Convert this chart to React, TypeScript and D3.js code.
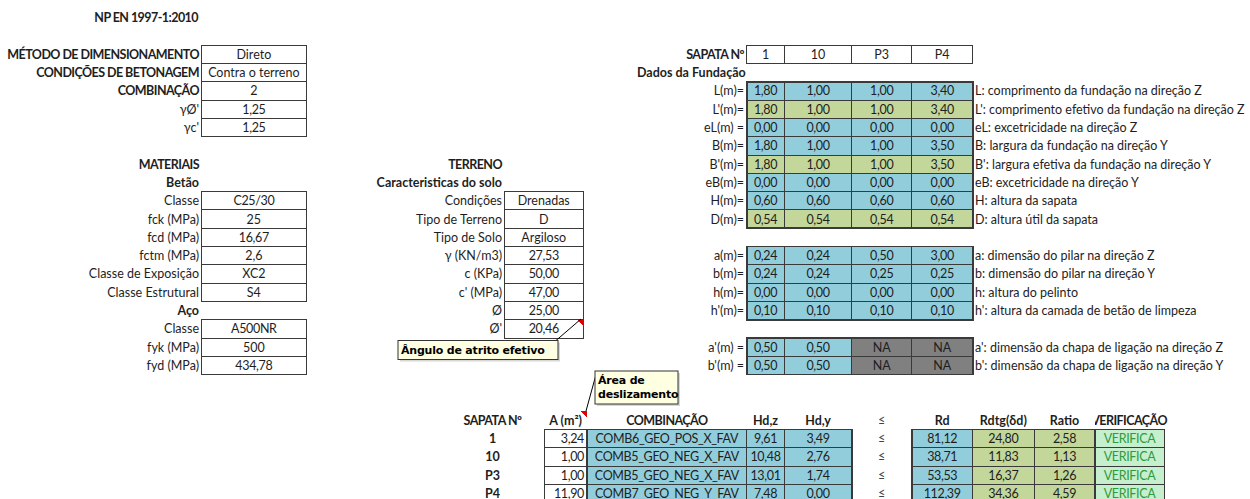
import React from 'react';
import * as d3 from 'd3';

const W = 1250;
const H = 499;

// ---- data read from the sheet ----
const titleText = 'NP EN 1997-1:2010';

const geralLabels = ['MÉTODO DE DIMENSIONAMENTO', 'CONDIÇÕES DE BETONAGEM', 'COMBINAÇÃO', "γØ'", "γc'"];
const geralBold = [true, true, true, false, false];
const geralValues = ['Direto', 'Contra o terreno', '2', '1,25', '1,25'];

const betaoLabels = ['Classe', 'fck (MPa)', 'fcd (MPa)', 'fctm (MPa)', 'Classe de Exposição', 'Classe Estrutural'];
const betaoValues = ['C25/30', '25', '16,67', '2,6', 'XC2', 'S4'];
const acoLabels = ['Classe', 'fyk (MPa)', 'fyd (MPa)'];
const acoValues = ['A500NR', '500', '434,78'];

const soloLabels = ['Condições', 'Tipo de Terreno', 'Tipo de Solo', 'γ (KN/m3)', 'c (KPa)', "c' (MPa)", 'Ø', "Ø'"];
const soloValues = ['Drenadas', 'D', 'Argiloso', '27,53', '50,00', '47,00', '25,00', '20,46'];

const sapatas = ['1', '10', 'P3', 'P4'];

const fundLabels = ['L(m)=', "L'(m)=", 'eL(m) =', 'B(m)=', "B'(m)=", 'eB(m)=', 'H(m)=', 'D(m)='];
const fundValues = [
  [1.8, 1.0, 1.0, 3.4],
  [1.8, 1.0, 1.0, 3.4],
  [0, 0, 0, 0],
  [1.8, 1.0, 1.0, 3.5],
  [1.8, 1.0, 1.0, 3.5],
  [0, 0, 0, 0],
  [0.6, 0.6, 0.6, 0.6],
  [0.54, 0.54, 0.54, 0.54],
];
const fundKind = ['input', 'calc', 'input', 'input', 'calc', 'input', 'input', 'calc'];
const fundDesc = [
  'L: comprimento da fundação na direção Z',
  "L': comprimento efetivo da fundação na direção Z",
  'eL: excetricidade na direção Z',
  'B: largura da fundação na direção Y',
  "B': largura efetiva da fundação na direção Y",
  'eB: excetricidade na direção Y',
  'H: altura da sapata',
  'D: altura útil da sapata',
];

const pilarLabels = ['a(m)=', 'b(m)=', 'h(m)=', "h'(m)="];
const pilarValues = [
  [0.24, 0.24, 0.5, 3.0],
  [0.24, 0.24, 0.25, 0.25],
  [0, 0, 0, 0],
  [0.1, 0.1, 0.1, 0.1],
];
const pilarDesc = [
  'a: dimensão do pilar na direção Z',
  'b: dimensão do pilar na direção Y',
  'h: altura do pelinto',
  "h': altura da camada de betão de limpeza",
];

const chapaLabels = ["a'(m) =", "b'(m) ="];
const chapaValues: (number | null)[][] = [
  [0.5, 0.5, null, null],
  [0.5, 0.5, null, null],
];
const chapaDesc = [
  "a': dimensão da chapa de ligação na direção Z",
  "b': dimensão da chapa de ligação na direção Y",
];

const tabHeaders = ['SAPATA Nº', 'A (m²)', 'COMBINAÇÃO', 'Hd,z', 'Hd,y', '≤', 'Rd', 'Rdtg(δd)', 'Ratio', 'VERIFICAÇÃO'];
const tabArea = [3.24, 1.0, 1.0, 11.9];
const tabComb = ['COMB6_GEO_POS_X_FAV', 'COMB5_GEO_NEG_X_FAV', 'COMB5_GEO_NEG_X_FAV', 'COMB7_GEO_NEG_Y_FAV'];
const tabHdz = [9.61, 10.48, 13.01, 7.48];
const tabHdy = [3.49, 2.76, 1.74, 0.0];
const tabRd = [81.12, 38.71, 53.53, 112.39];
const tabRdtg = [24.8, 11.83, 16.37, 34.36];
const tabRatio = [2.58, 1.13, 1.26, 4.59];
const tabVerif = ['VERIFICA', 'VERIFICA', 'VERIFICA', 'VERIFICA'];

const noteAngulo = ['Ângulo de atrito efetivo'];
const noteArea = ['Área de', 'deslizamento'];

// ---- styling / layout ----
const FONT = 'Lato, "Open Sans", sans-serif';
const FS = 12.5;
const INK = '#1e1e1e';
const BORDER = '#3a3a3a';
const BLUE = '#92cddc';
const GREEN = '#c4d79b';
const GREY = '#808080';
const OK_FILL = '#c6efce';
const OK_INK = '#2f9a3f';

const pt = d3.formatLocale({ decimal: ',', thousands: '.', grouping: [3], currency: ['', ''] });
const f2 = pt.format('.2f');

// spreadsheet rows -> top pixel
const ROW_H = 18.3;
const rowTop = d3.scaleLinear().domain([0, 1]).range([8.6, 8.6 + ROW_H]);
const rowMid = (r: number) => rowTop(r) + ROW_H / 2;

// column edges of the right hand grid
const gridX = d3.scaleOrdinal<number, number>()
  .domain([0, 1, 2, 3, 4, 5, 6, 7])
  .range([746.7, 784.3, 851.7, 911.7, 972.7, 1034, 1095, 1164]);

type Align = 'start' | 'middle' | 'end';

// Calibri caps are narrower than Lato's, squeeze all-caps strings a bit
const squeeze = (t: string, bold: boolean) =>
  /[A-Z0-9]/.test(t) && !/[a-zà-ÿ]/.test(t) && t.length > 3 ? (bold ? -0.55 : -0.35) : 0;

function Txt({ x, r, text, anchor = 'middle', bold = false, color = INK, size = FS }:
  { x: number; r: number; text: string; anchor?: Align; bold?: boolean; color?: string; size?: number }) {
  return (
    <text x={x} y={rowMid(r)} dy="0.36em" textAnchor={anchor} fontWeight={bold ? 700 : 400}
      letterSpacing={squeeze(text, bold)} fill={color} fontSize={size} fontFamily={FONT}>{text}</text>
  );
}

function Cell({ x0, x1, r, text, fill = '#fff', anchor = 'middle', bold = false, color = INK }:
  { x0: number; x1: number; r: number; text: string; fill?: string; anchor?: Align; bold?: boolean; color?: string }) {
  const tx = anchor === 'middle' ? (x0 + x1) / 2 : anchor === 'end' ? x1 - 3 : x0 + 3;
  return (
    <g>
      <rect x={x0} y={rowTop(r)} width={x1 - x0} height={ROW_H} fill={fill} stroke={BORDER} strokeWidth={1} />
      <Txt x={tx} r={r} text={text} anchor={anchor} bold={bold} color={color} />
    </g>
  );
}

function LabelBox({ labels, values, r0, labelX, x0, x1, bold }:
  { labels: string[]; values: string[]; r0: number; labelX: number; x0: number; x1: number; bold?: boolean[] }) {
  return (
    <g>
      {labels.map((l, i) => (
        <g key={i}>
          <Txt x={labelX} r={r0 + i} text={l} anchor="end" bold={bold ? bold[i] : false} />
          <Cell x0={x0} x1={x1} r={r0 + i} text={values[i]} />
        </g>
      ))}
    </g>
  );
}

function Grid({ labels, values, kinds, desc, r0 }:
  { labels: string[]; values: (number | null)[][]; kinds?: string[]; desc: string[]; r0: number }) {
  return (
    <g>
      {labels.map((l, i) => (
        <g key={i}>
          <Txt x={744} r={r0 + i} text={l} anchor="end" />
          {values[i].map((v, j) => (
            <Cell key={j} x0={gridX(j)} x1={gridX(j + 1)} r={r0 + i}
              text={v === null ? 'NA' : f2(v)}
              fill={v === null ? GREY : kinds && kinds[i] === 'calc' ? GREEN : BLUE} />
          ))}
          <Txt x={975} r={r0 + i} text={desc[i]} anchor="start" />
        </g>
      ))}
      <rect x={gridX(0)} y={rowTop(r0)} width={gridX(4) - gridX(0)} height={ROW_H * labels.length}
        fill="none" stroke={BORDER} strokeWidth={1.6} />
    </g>
  );
}

function Note({ x, y, w, lines, tx, ty }: { x: number; y: number; w: number; lines: string[]; tx: number; ty: number }) {
  const h = lines.length * 14 + 5;
  return (
    <g>
      <line x1={x + (tx > x + w / 2 ? w - 2 : 2)} y1={y} x2={tx} y2={ty} stroke="#000" strokeWidth={1} />
      <rect x={x + 2} y={y + 2} width={w} height={h} fill="#bdbdbd" opacity={0.6} />
      <rect x={x} y={y} width={w} height={h} fill="#ffffe1" stroke="#333" strokeWidth={1} />
      {lines.map((t, i) => (
        <text key={i} x={x + 3} y={y + 13 + i * 14} fontSize={11} fontWeight={700} letterSpacing={-0.2}
          fontFamily='Tahoma, "DejaVu Sans", sans-serif' fill="#000">{t}</text>
      ))}
    </g>
  );
}

function RedMark({ x, y }: { x: number; y: number }) {
  const p = d3.path();
  p.moveTo(x - 6, y);
  p.lineTo(x, y);
  p.lineTo(x, y + 6);
  p.closePath();
  return <path d={p.toString()} fill="#e00000" />;
}

export default function App() {
  const bottomCols: [number, number][] = [
    [460, 525], [544.3, 587], [587, gridX(0)], [gridX(0), gridX(1)], [gridX(1), gridX(2)],
    [gridX(2), gridX(3)], [gridX(3), gridX(4)], [gridX(4), gridX(5)], [gridX(5), gridX(6)], [gridX(6), gridX(7)],
  ];
  const mid = (c: [number, number]) => (c[0] + c[1]) / 2;
  const r0 = 23;

  return (
    <svg width={W} height={H} style={{ position: 'absolute', left: 0, top: 0, background: '#fff' }}
      shapeRendering="crispEdges">
      <defs>
        <clipPath id="verifClip">
          <rect x={gridX(6)} y={0} width={W - gridX(6)} height={H} />
        </clipPath>
      </defs>
      <rect width={W} height={H} fill="#fff" />

      <Txt x={198} r={0} text={titleText} anchor="end" bold />

      {/* general block */}
      <LabelBox labels={geralLabels} values={geralValues} bold={geralBold} r0={2} labelX={199} x0={201.7} x1={306} />

      {/* materiais */}
      <Txt x={199} r={8} text="MATERIAIS" anchor="end" bold />
      <Txt x={199} r={9} text="Betão" anchor="end" bold />
      <LabelBox labels={betaoLabels} values={betaoValues} r0={10} labelX={199} x0={201.7} x1={306} />
      <Txt x={199} r={16} text="Aço" anchor="end" bold />
      <LabelBox labels={acoLabels} values={acoValues} r0={17} labelX={199} x0={201.7} x1={306} />

      {/* terreno */}
      <Txt x={502} r={8} text="TERRENO" anchor="end" bold />
      <Txt x={502} r={9} text="Caracteristicas do solo" anchor="end" bold />
      <LabelBox labels={soloLabels} values={soloValues} r0={10} labelX={502} x0={504} x1={583.5} />
      <RedMark x={583.5} y={rowTop(17)} />

      {/* fundação */}
      <Txt x={744} r={2} text="SAPATA Nº" anchor="end" bold />
      {sapatas.map((s, j) => (
        <Cell key={s} x0={gridX(j)} x1={gridX(j + 1)} r={2} text={s} />
      ))}
      <Txt x={637} r={3} text="Dados da Fundação" anchor="start" bold />
      <Grid labels={fundLabels} values={fundValues} kinds={fundKind} desc={fundDesc} r0={4} />
      <Grid labels={pilarLabels} values={pilarValues} desc={pilarDesc} r0={13} />
      <Grid labels={chapaLabels} values={chapaValues} desc={chapaDesc} r0={18} />

      {/* verificação ao deslizamento */}
      {tabHeaders.map((h, k) => (
        <g key={h} clipPath={k === 9 ? 'url(#verifClip)' : undefined}>
          <Txt x={k === 9 ? 1167 : mid(bottomCols[k])} anchor={k === 9 ? 'end' : 'middle'} r={22} text={h}
            bold={k !== 5} color={k === 5 ? '#444' : INK} />
        </g>
      ))}
      <RedMark x={587} y={rowTop(22)} />
      {sapatas.map((s, i) => (
        <g key={s}>
          <Txt x={mid(bottomCols[0])} r={r0 + i} text={s} bold />
          <Cell x0={bottomCols[1][0]} x1={bottomCols[1][1]} r={r0 + i} text={f2(tabArea[i])} anchor="end" />
          <Cell x0={bottomCols[2][0]} x1={bottomCols[2][1]} r={r0 + i} text={tabComb[i]} fill={BLUE} />
          <Cell x0={bottomCols[3][0]} x1={bottomCols[3][1]} r={r0 + i} text={f2(tabHdz[i])} fill={BLUE} />
          <Cell x0={bottomCols[4][0]} x1={bottomCols[4][1]} r={r0 + i} text={f2(tabHdy[i])} fill={BLUE} />
          <Txt x={mid(bottomCols[5])} r={r0 + i} text="≤" color="#444" />
          <Cell x0={bottomCols[6][0]} x1={bottomCols[6][1]} r={r0 + i} text={f2(tabRd[i])} fill={BLUE} />
          <Cell x0={bottomCols[7][0]} x1={bottomCols[7][1]} r={r0 + i} text={f2(tabRdtg[i])} fill={GREEN} />
          <Cell x0={bottomCols[8][0]} x1={bottomCols[8][1]} r={r0 + i} text={f2(tabRatio[i])} fill={GREEN} />
          <Cell x0={bottomCols[9][0]} x1={bottomCols[9][1]} r={r0 + i} text={tabVerif[i]} fill={OK_FILL} color={OK_INK} />
        </g>
      ))}
      <rect x={bottomCols[2][0]} y={rowTop(r0)} width={bottomCols[4][1] - bottomCols[2][0]} height={ROW_H * 4}
        fill="none" stroke={BORDER} strokeWidth={1.6} />
      <rect x={bottomCols[6][0]} y={rowTop(r0)} width={bottomCols[8][1] - bottomCols[6][0]} height={ROW_H * 4}
        fill="none" stroke={BORDER} strokeWidth={1.6} />

      {/* comments */}
      <g shapeRendering="geometricPrecision">
        <Note x={398} y={340.5} w={160} lines={noteAngulo} tx={581} ty={319} />
        <Note x={595} y={371} w={83} lines={noteArea} tx={586} ty={411} />
      </g>
    </svg>
  );
}
